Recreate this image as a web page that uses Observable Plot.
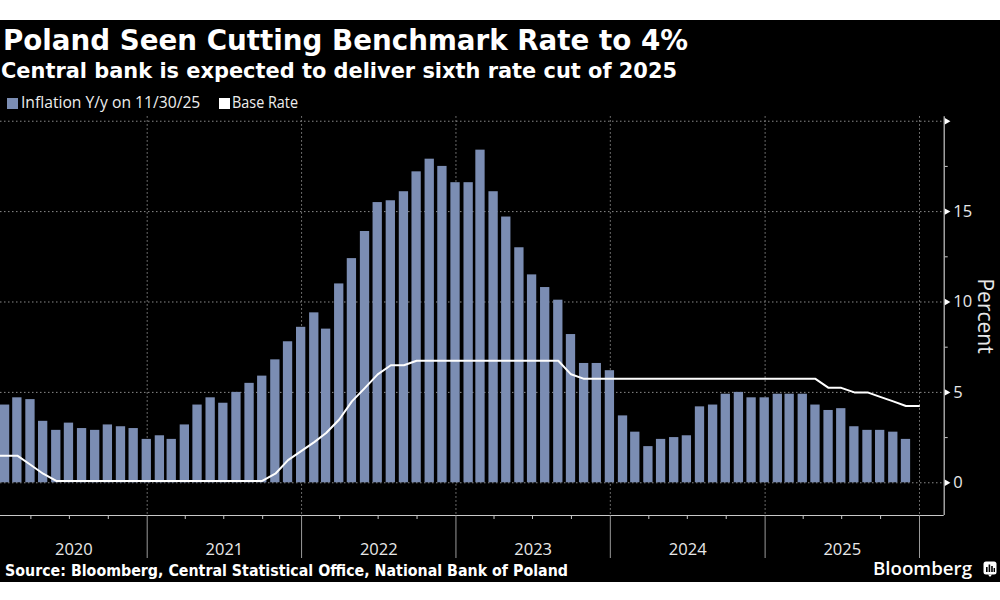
<!DOCTYPE html>
<html>
<head>
<meta charset="utf-8">
<script src="https://cdn.jsdelivr.net/npm/d3@7"></script>
<script src="https://cdn.jsdelivr.net/npm/@observablehq/plot@0.6"></script>
<style>
  html, body { margin: 0; padding: 0; background: #fff; }
  body { width: 1000px; height: 600px; position: relative; overflow: hidden; }
  #panel { position: absolute; left: 0; top: 20px; width: 1000px; height: 562px; background: #000; }
  .t { position: absolute; left: 0; top: 0; white-space: nowrap; color: #fff; transform-origin: 0 0; line-height: 1.2; }
  .sq { position: absolute; width: 11px; height: 11px; }
  #chart { position: absolute; left: 0; top: 110px; }
</style>
</head>
<body>
<div id="panel"></div>
<div id="chart"></div>
<script>
// ---------- data ----------
const inflationStart = [2020, 1];   // first month (Jan 2020), values dated at month end
const inflation = [
  4.3, 4.7, 4.6, 3.4, 2.9, 3.3, 3.0, 2.9, 3.2, 3.1, 3.0, 2.4,
  2.6, 2.4, 3.2, 4.3, 4.7, 4.4, 5.0, 5.5, 5.9, 6.8, 7.8, 8.6,
  9.4, 8.5, 11.0, 12.4, 13.9, 15.5, 15.6, 16.1, 17.2, 17.9, 17.5, 16.6,
  16.6, 18.4, 16.1, 14.7, 13.0, 11.5, 10.8, 10.1, 8.2, 6.6, 6.6, 6.2,
  3.7, 2.8, 2.0, 2.4, 2.5, 2.6, 4.2, 4.3, 4.9, 5.0, 4.7, 4.7,
  4.9, 4.9, 4.9, 4.3, 4.0, 4.1, 3.1, 2.9, 2.9, 2.8, 2.4
];
const rateStart = [2019, 12];       // first month (Dec 2019), values at month end
const baseRate = [
  1.5,
  1.5, 1.5, 1.0, 0.5, 0.1, 0.1, 0.1, 0.1, 0.1, 0.1, 0.1, 0.1,
  0.1, 0.1, 0.1, 0.1, 0.1, 0.1, 0.1, 0.1, 0.1, 0.5, 1.25, 1.75,
  2.25, 2.75, 3.5, 4.5, 5.25, 6.0, 6.5, 6.5, 6.75, 6.75, 6.75, 6.75,
  6.75, 6.75, 6.75, 6.75, 6.75, 6.75, 6.75, 6.75, 6.0, 5.75, 5.75, 5.75,
  5.75, 5.75, 5.75, 5.75, 5.75, 5.75, 5.75, 5.75, 5.75, 5.75, 5.75, 5.75,
  5.75, 5.75, 5.75, 5.75, 5.25, 5.25, 5.0, 5.0, 4.75, 4.5, 4.25, 4.25
];
const years = [2020, 2021, 2022, 2023, 2024, 2025];
const yTicks = [0, 5, 10, 15];
const yGrid = [0, 5, 10, 15, 20];
const yMinor = [2.5, 7.5, 12.5, 17.5];

const titleText = "Poland Seen Cutting Benchmark Rate to 4%";
const subtitleText = "Central bank is expected to deliver sixth rate cut of 2025";
const legendLabels = ["Inflation Y/y on 11/30/25", "Base Rate"];
const sourceText = "Source: Bloomberg, Central Statistical Office, National Bank of Poland";
const yLabel = "Percent";

// ---------- tables ----------
const monthEnd = (y, m, i) => new Date(Date.UTC(y, m - 1 + i + 1, 0));
const inflData = inflation.map((v, i) => ({date: monthEnd(inflationStart[0], inflationStart[1], i), value: v}));
const rateData = baseRate.map((v, i) => ({date: monthEnd(rateStart[0], rateStart[1], i), value: v}));

// ---------- scales layout ----------
const BAR = "#7b8db3";
const GRID = "#8a8a8a";
const AXIS = "#c8c8c8";
const TXT = "#e8e8e8";
const A0 = Date.UTC(2021, 0, 1), A1 = Date.UTC(2026, 0, 1);
const pxA0 = 146.7, pxA1 = 919, pxRight = 943.7;
const pxPerMs = (pxA1 - pxA0) / (A1 - A0);
const d0 = new Date(A0 - pxA0 / pxPerMs);
const d1 = new Date(A1 + (pxRight - pxA1) / pxPerMs);
const yMin = -1.81, yMax = 20.25;
const day = 864e5;

const yearStarts = years.map(y => new Date(Date.UTC(y + 1, 0, 1)));
const quarterStarts = [];
years.forEach(y => [3, 6, 9].forEach(m => quarterStarts.push(new Date(Date.UTC(y, m, 1)))));
const yearMids = years.map(y => {
  const a = Math.max(Date.UTC(y, 0, 1), +d0), b = Date.UTC(y + 1, 0, 1);
  return new Date((a + b) / 2);
});

const chart = Plot.plot({
  width: 1000,
  height: 470,
  marginLeft: 0,
  marginRight: 1000 - pxRight,
  marginTop: 6.2,
  marginBottom: 65,
  style: {background: "transparent", color: TXT, fontFamily: "'Open Sans', sans-serif", fontSize: "16.5px"},
  x: {type: "utc", domain: [d0, d1], axis: null},
  y: {domain: [yMin, yMax], axis: null},
  marks: [
    Plot.ruleY(yGrid, {stroke: GRID, strokeDasharray: "1.5,2.5", strokeWidth: 1}),
    Plot.ruleX(yearStarts, {stroke: GRID, strokeDasharray: "1.5,2.5", strokeWidth: 1}),
    Plot.rectY(inflData, {
      x1: d => new Date(+d.date - 11 * day),
      x2: d => new Date(+d.date + 11 * day),
      y1: 0, y2: "value", fill: BAR
    }),
    Plot.line(rateData, {x: "date", y: "value", stroke: "#fff", strokeWidth: 2, clip: true}),
    Plot.ruleY([yMin], {stroke: AXIS, strokeWidth: 1.2}),
    Plot.ruleX([d1], {stroke: AXIS, strokeWidth: 1.2}),
    Plot.axisX({ticks: yearStarts, tickSize: 43, tickFormat: () => "", stroke: "#9a9a9a", label: null}),
    Plot.axisX({ticks: quarterStarts, tickSize: 4, tickFormat: () => "", stroke: AXIS, label: null}),
    Plot.axisX({ticks: yearMids, tickSize: 0, tickPadding: 28, tickFormat: d => String(d.getUTCFullYear()), fill: TXT, fontSize: 16.5, label: null}),
    Plot.axisY({anchor: "right", ticks: yMinor, tickSize: 3, tickFormat: () => "", stroke: AXIS, label: null}),
    Plot.dot(yGrid, {y: d => d, frameAnchor: "right", symbol: "triangle", r: 2.4, rotate: 90, fill: "#fff", stroke: "none", dx: 2.5}),
    Plot.axisY({anchor: "right", ticks: yTicks, tickSize: 0, tickPadding: 9, fill: TXT, fontSize: 16.5, label: null}),
    Plot.text([yLabel], {frameAnchor: "right", textAnchor: "middle", dx: 41, rotate: 90, fontSize: 21, fill: TXT})
  ]
});
document.getElementById("chart").appendChild(chart);

// ---------- header & footer text ----------
function placeText(text, opts) {
  const el = document.createElement("div");
  el.className = "t";
  el.style.fontFamily = opts.font;
  el.style.fontSize = opts.size + "px";
  el.style.fontWeight = opts.weight || "normal";
  if (opts.color) el.style.color = opts.color;
  const span = document.createElement("span");
  span.textContent = text;
  el.appendChild(span);
  const probe = document.createElement("span");
  probe.style.cssText = "display:inline-block;width:0;height:0;vertical-align:baseline;";
  el.appendChild(probe);
  document.body.appendChild(el);
  const r = el.getBoundingClientRect();
  const b = probe.getBoundingClientRect().bottom - r.top;
  el.style.left = opts.left + "px";
  el.style.top = (opts.baseline - b) + "px";
  el.style.transformOrigin = "0 " + b + "px";
  if (opts.width) {
    const w = span.getBoundingClientRect().width;
    el.style.transform = `scaleX(${opts.width / w})`;
  }
  return el;
}
function square(left, top, color) {
  const s = document.createElement("div");
  s.className = "sq";
  s.style.left = left + "px"; s.style.top = top + "px"; s.style.background = color;
  document.body.appendChild(s);
}

placeText(titleText, {font: "'DejaVu Sans', sans-serif", weight: "bold", size: 28, left: 2.5, baseline: 50, width: 685});
placeText(subtitleText, {font: "'DejaVu Sans', sans-serif", weight: "bold", size: 21, left: 1, baseline: 77.5, width: 676});
square(6.7, 98, BAR);
placeText(legendLabels[0], {font: "'Open Sans', sans-serif", size: 15.5, left: 20.7, baseline: 108.3, width: 179.3, color: "#eee"});
square(218.5, 98, "#fff");
placeText(legendLabels[1], {font: "'Open Sans', sans-serif", size: 15.5, left: 232, baseline: 108.3, width: 66, color: "#eee"});
placeText(sourceText, {font: "'DejaVu Sans', sans-serif", weight: "bold", size: 15, left: 5, baseline: 576, width: 563});
placeText("Bloomberg", {font: "'Open Sans', sans-serif", weight: "600", size: 18, left: 873, baseline: 575, width: 99});

// small Bloomberg mark
const ns = "http://www.w3.org/2000/svg";
const logo = document.createElementNS(ns, "svg");
logo.setAttribute("width", 15); logo.setAttribute("height", 17);
logo.style.cssText = "position:absolute;left:983px;top:561px;";
logo.innerHTML = '<rect x="0.5" y="0.5" width="13" height="13" rx="2.5" fill="#fff"/>' +
  '<path d="M5 13.5 L7 16 L9 13.5 Z" fill="#fff"/>' +
  '<rect x="3" y="6" width="1.6" height="5" fill="#000"/>' +
  '<rect x="5.6" y="3.5" width="1.6" height="7.5" fill="#000"/>' +
  '<rect x="8.2" y="5" width="1.6" height="6" fill="#000"/>' +
  '<rect x="10.6" y="7" width="1.4" height="4" fill="#000"/>';
document.body.appendChild(logo);
</script>
</body>
</html>
